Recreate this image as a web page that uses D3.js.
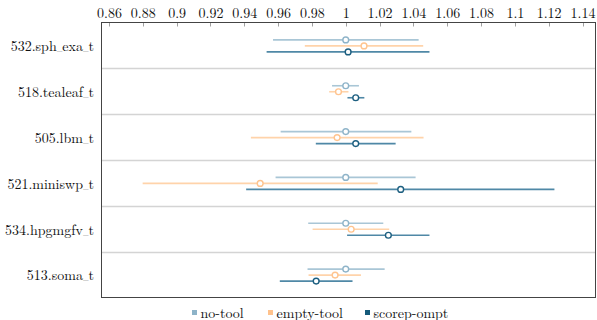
<html>
<head>
<meta charset="utf-8">
<title>overhead</title>
<style>
  body { margin: 0; background: #fff; }
</style>
</head>
<body>
<script src="https://d3js.org/d3.v7.min.js"></script>
<script>
var benchmarks = ["532.sph_exa_t", "518.tealeaf_t", "505.lbm_t", "521.miniswp_t", "534.hpgmgfv_t", "513.soma_t"];
var seriesNames = ["no-tool", "empty-tool", "scorep-ompt"];
var xTicks = [0.86, 0.88, 0.9, 0.92, 0.94, 0.96, 0.98, 1, 1.02, 1.04, 1.06, 1.08, 1.1, 1.12, 1.14];

// median, low, high per benchmark
var noToolMid  = [1.0,    1.0,    1.0,    1.0,    1.0,    1.0];
var noToolLow  = [0.957,  0.9919, 0.9615, 0.9585, 0.9778, 0.9774];
var noToolHigh = [1.0431, 1.0078, 1.0388, 1.0413, 1.0222, 1.023];

var emptyMid  = [1.0108, 0.9957, 0.9949, 0.9494, 1.0032, 0.9937];
var emptyLow  = [0.9758, 0.9902, 0.9439, 0.8799, 0.9804, 0.978];
var emptyHigh = [1.0458, 1.0016, 1.046,  1.0189, 1.0257, 1.009];

var scorepMid  = [1.0014, 1.0059, 1.0059, 1.0325, 1.0252, 0.9825];
var scorepLow  = [0.9532, 1.001,  0.9823, 0.9411, 1.0008, 0.961];
var scorepHigh = [1.0495, 1.011,  1.0295, 1.1234, 1.0495, 1.004];

var lineColors = ["#a9c6d6", "#ffd3aa", "#4f88a6"];
var markColors = ["#8fb4c9", "#ffc48f", "#1d5f80"];
var legendColors = ["#8db3c8", "#ffc28c", "#155a7a"];

var serif = "'Latin Modern Roman'";
var width = 597, height = 320;
var frame = {left: 101.5, right: 595.5, top: 22.5, bottom: 297.5};

var svg = d3.select("body").append("svg").attr("width", width).attr("height", height)
  .style("font-family", serif);

var x = d3.scaleLinear().domain([0.86, 1.14]).range([109, 582.5]);
var y = d3.scaleBand().domain(benchmarks).range([frame.top, frame.bottom]);

var offsets = [-6, 0, 6];

// row separators
svg.append("g").selectAll("line")
  .data(benchmarks.slice(1))
  .enter().append("line")
  .attr("x1", frame.left).attr("x2", frame.right)
  .attr("y1", function(d){ return Math.round(y(d)) + 0.5; })
  .attr("y2", function(d){ return Math.round(y(d)) + 0.5; })
  .attr("stroke", "#d4d4d4").attr("stroke-width", 1.5);

// top axis
var xAxis = d3.axisTop(x).tickValues(xTicks).tickSize(0).tickPadding(5)
  .tickFormat(function(d){ return String(+d.toFixed(2)); });
var gx = svg.append("g").attr("transform", "translate(0," + frame.top + ")").call(xAxis);
gx.attr("font-family", null).attr("font-size", null);
gx.select(".domain").remove();
gx.selectAll("text").style("font-size", "14px").attr("fill", "#111")
  .style("font-family", serif);
svg.append("g").selectAll("line")
  .data(xTicks).enter().append("line")
  .attr("x1", function(d){ return Math.round(x(d)) + 0.5; })
  .attr("x2", function(d){ return Math.round(x(d)) + 0.5; })
  .attr("y1", frame.top).attr("y2", frame.top + 4)
  .attr("stroke", "#888").attr("stroke-width", 0.8);

// labels (underscores set smaller, like LaTeX's short \_)
svg.append("g").selectAll("text")
  .data(benchmarks).enter().append("text")
  .attr("x", 94)
  .attr("y", function(d){ return y(d) + y.bandwidth() / 2 + 1; })
  .attr("dy", "0.35em")
  .attr("text-anchor", "end")
  .style("font-size", "14px")
  .style("font-family", serif)
  .attr("fill", "#111")
  .each(function(d){
    var t = d3.select(this);
    d.split("_").forEach(function(part, i){
      if (i > 0) t.append("tspan").style("font-size", "7.5px").text("_");
      t.append("tspan").text(part);
    });
  });

// error bars
var series = [
  {mid: noToolMid, low: noToolLow, high: noToolHigh},
  {mid: emptyMid, low: emptyLow, high: emptyHigh},
  {mid: scorepMid, low: scorepLow, high: scorepHigh}
];

series.forEach(function(s, k){
  var g = svg.append("g");
  var rows = benchmarks.map(function(b, i){
    return {b: b, mid: s.mid[i], low: s.low[i], high: s.high[i]};
  });
  var cy = function(d){ return y(d.b) + y.bandwidth() / 2 + offsets[k] + 0.5; };
  g.selectAll("line").data(rows).enter().append("line")
    .attr("x1", function(d){ return x(d.low); })
    .attr("x2", function(d){ return x(d.high); })
    .attr("y1", cy).attr("y2", cy)
    .attr("stroke", lineColors[k]).attr("stroke-width", 1.6);
  g.selectAll("circle").data(rows).enter().append("circle")
    .attr("cx", function(d){ return x(d.mid); })
    .attr("cy", cy)
    .attr("r", 2.9)
    .attr("fill", "#fff")
    .attr("stroke", markColors[k])
    .attr("stroke-width", 1.4);
});

// frame
svg.append("rect")
  .attr("x", frame.left).attr("y", frame.top)
  .attr("width", frame.right - frame.left).attr("height", frame.bottom - frame.top)
  .attr("fill", "none").attr("stroke", "#444").attr("stroke-width", 1);

// legend
var legendX = [192, 268, 365];
var lg = svg.append("g");
seriesNames.forEach(function(n, k){
  lg.append("rect")
    .attr("x", legendX[k]).attr("y", 310)
    .attr("width", 5).attr("height", 5)
    .attr("fill", legendColors[k]);
  lg.append("text")
    .attr("x", legendX[k] + 8.5).attr("y", 317.5)
    .style("font-size", "14px")
    .style("font-family", serif)
    .attr("fill", "#111")
    .text(n);
});
</script>
</body>
</html>
